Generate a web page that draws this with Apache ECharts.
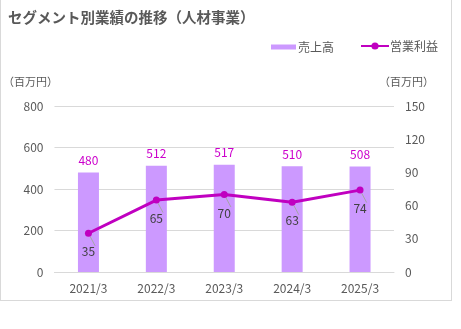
<!DOCTYPE html>
<html>
<head>
<meta charset="utf-8">
<script src="https://cdn.jsdelivr.net/npm/echarts@6/dist/echarts.min.js"></script>
<style>
html,body{margin:0;padding:0;background:#fff;}
#frame{position:absolute;left:0px;top:-1px;width:452px;height:302px;border:1px solid #d9d9d9;box-sizing:border-box;}
#chart{position:absolute;left:0;top:0;width:461px;height:329px;}
</style>
</head>
<body>
<div id="frame"></div>
<div id="chart"></div>
<script>
const categories = ['2021/3', '2022/3', '2023/3', '2024/3', '2025/3'];
const sales = [480, 512, 517, 510, 508];
const profit = [35, 65, 70, 63, 74];
const FONT = '"Noto Sans CJK JP", "Noto Sans", sans-serif';
const TXT = '#595959';
const chart = echarts.init(document.getElementById('chart'), null, {renderer: 'canvas'});
chart.setOption({
  animation: false,
  textStyle: {fontFamily: FONT},
  title: {
    text: 'セグメント別業績の推移（人材事業）',
    left: 3, top: 5,
    textStyle: {fontSize: 14.5, fontWeight: 'bold', color: TXT, fontFamily: FONT}
  },
  legend: [
    {
      data: ['売上高'], left: 266, top: 36,
      itemWidth: 25, itemHeight: 5, itemGap: 10,
      icon: 'rect',
      textStyle: {fontSize: 12, color: TXT, fontFamily: FONT, padding: [0, 0, 0, -3]}
    },
    {
      data: ['営業利益'], left: 355, top: 35,
      itemWidth: 28, itemHeight: 9,
      textStyle: {fontSize: 12, color: TXT, fontFamily: FONT, padding: [0, 0, 0, -4]}
    }
  ],
  grid: {left: 54, right: 67, top: 106, bottom: 57, containLabel: false},
  xAxis: {
    type: 'category', data: categories,
    axisLine: {lineStyle: {color: '#d9d9d9'}},
    axisTick: {show: false},
    axisLabel: {color: TXT, fontSize: 12, margin: 10, fontFamily: FONT}
  },
  yAxis: [
    {
      type: 'value', min: 0, max: 800, interval: 200,
      name: '（百万円）', nameGap: 19,
      nameTextStyle: {color: TXT, fontSize: 11, align: 'center', padding: [0, 48, 0, 0], fontFamily: FONT},
      axisLine: {show: false}, axisTick: {show: false},
      splitLine: {lineStyle: {color: '#d9d9d9'}},
      axisLabel: {color: TXT, fontSize: 12, margin: 11, fontFamily: FONT}
    },
    {
      type: 'value', min: 0, max: 150, interval: 30, position: 'right',
      name: '（百万円）', nameGap: 19,
      nameTextStyle: {color: TXT, fontSize: 11, align: 'center', padding: [0, 0, 0, 25], fontFamily: FONT},
      axisLine: {show: false}, axisTick: {show: false},
      splitLine: {show: false},
      axisLabel: {color: TXT, fontSize: 12, margin: 11, fontFamily: FONT}
    }
  ],
  series: [
    {
      name: '売上高', type: 'bar', data: sales, yAxisIndex: 0,
      barWidth: 21,
      itemStyle: {color: '#CC99FF'},
      label: {show: true, position: 'top', distance: 6, color: '#CC00CC', fontSize: 12, fontFamily: FONT}
    },
    {
      name: '営業利益', type: 'line', data: profit, yAxisIndex: 1,
      symbol: 'circle', symbolSize: 7,
      lineStyle: {color: '#C000C0', width: 3},
      itemStyle: {color: '#C000C0'},
      label: {show: true, position: 'bottom', distance: 9, color: '#404040', fontSize: 12, fontFamily: FONT},
      labelLine: {show: true, lineStyle: {color: '#a6a6a6', width: 1}}
    }
  ]
});
</script>
</body>
</html>
